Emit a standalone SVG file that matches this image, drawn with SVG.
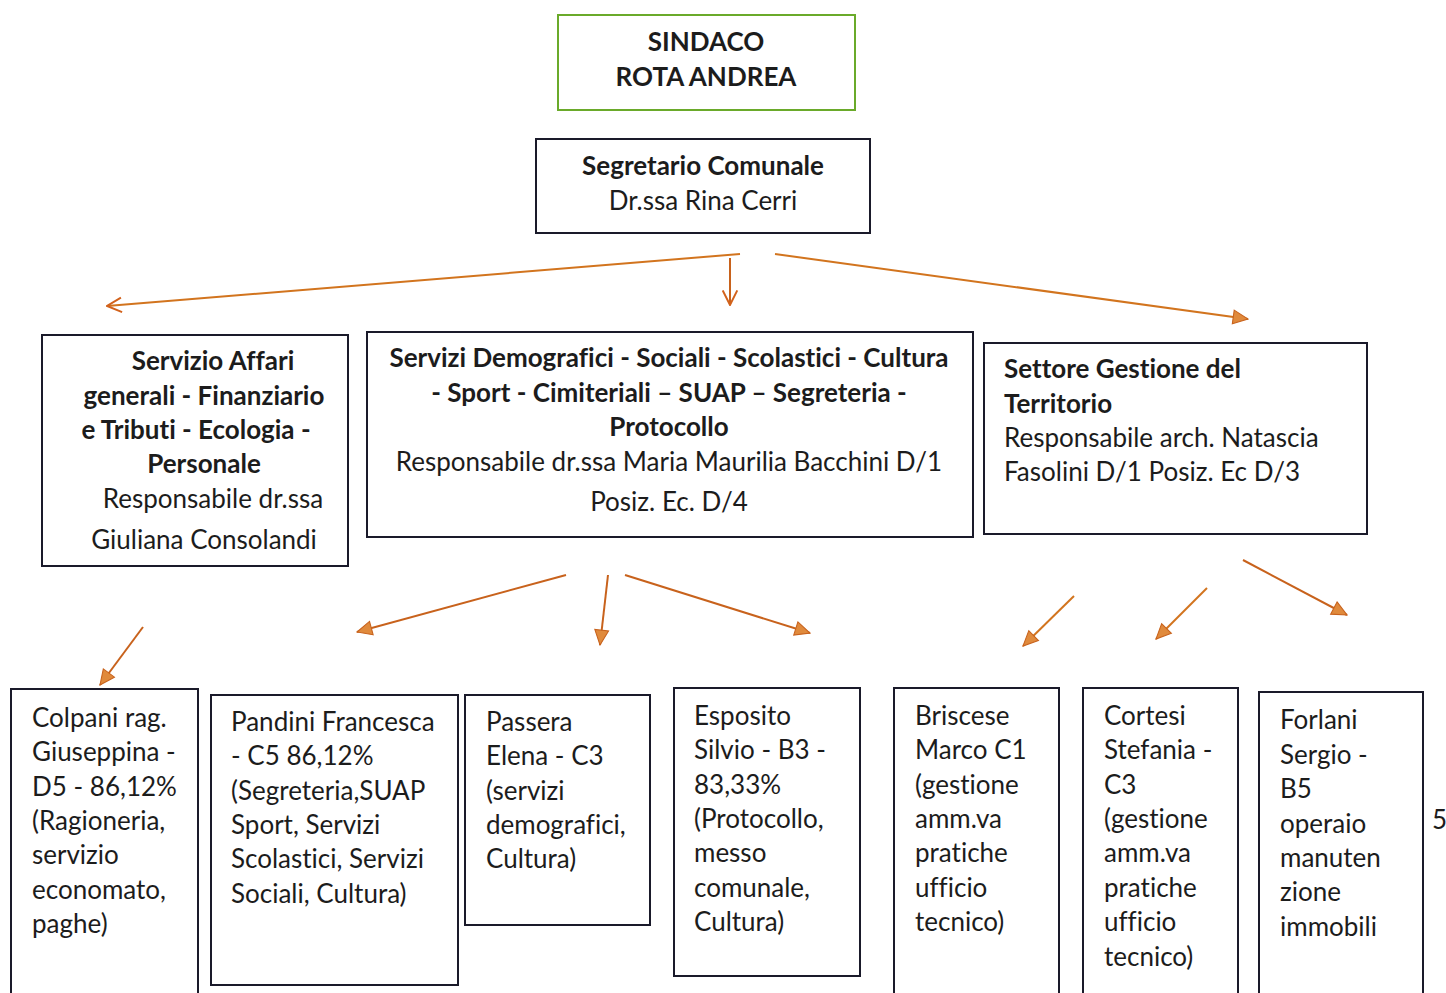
<svg xmlns="http://www.w3.org/2000/svg" width="1446" height="993" viewBox="0 0 1446 993">
<defs>
<style>
.box{fill:#fff;stroke:#1a1a2a;stroke-width:2}
.green{fill:#fff;stroke:#6aaa2a;stroke-width:2}
text{font-family:Lato,"Liberation Sans",sans-serif;font-size:26px;fill:#1c1c1c;font-variant-ligatures:none}
.b{font-weight:bold}
.c{text-anchor:middle}
.ln{fill:none;stroke:#c8621c;stroke-width:2}
.ln2{fill:none;stroke:#d2741e;stroke-width:2}
</style>
<marker id="tri" viewBox="0 0 16 16" refX="15" refY="8" markerWidth="17" markerHeight="17" markerUnits="userSpaceOnUse" orient="auto">
<path d="M1,1.5 L15,8 L1,14.5 Z" fill="#e08a3c" stroke="#c8621c" stroke-width="1"/>
</marker>
<marker id="openEnd" viewBox="0 0 14 14" refX="13" refY="7" markerWidth="17" markerHeight="17" markerUnits="userSpaceOnUse" orient="auto">
<path d="M1,1 L13,7 L1,13" fill="none" stroke="#d2621c" stroke-width="1.6"/>
</marker>
</defs>
<rect width="1446" height="993" fill="#fff"/>

<g id="sindaco">
<rect class="green" x="558" y="15" width="297" height="95"/>
<text class="b c" x="706" y="51">SINDACO</text>
<text class="b c" x="706" y="86">ROTA ANDREA</text>
</g>

<g id="segretario">
<rect class="box" x="536" y="139" width="334" height="94"/>
<text class="b c" x="703" y="175">Segretario Comunale</text>
<text class="c" x="703" y="210">Dr.ssa Rina Cerri</text>
</g>

<g id="affari">
<rect class="box" x="42" y="335" width="306" height="231"/>
<text class="b c" x="213" y="370">Servizio Affari</text>
<text class="b c" x="204" y="405">generali - Finanziario</text>
<text class="b c" x="196" y="439">e Tributi - Ecologia -</text>
<text class="b c" x="204" y="473">Personale</text>
<text class="c" x="213" y="508">Responsabile dr.ssa</text>
<text class="c" x="204" y="549">Giuliana Consolandi</text>
</g>

<g id="demografici">
<rect class="box" x="367" y="332" width="606" height="205"/>
<text class="b c" x="669" y="367">Servizi Demografici - Sociali - Scolastici - Cultura</text>
<text class="b c" x="669" y="402">- Sport - Cimiteriali – SUAP – Segreteria -</text>
<text class="b c" x="669" y="436">Protocollo</text>
<text class="c" x="669" y="471">Responsabile dr.ssa Maria Maurilia Bacchini D/1</text>
<text class="c" x="669" y="511">Posiz. Ec. D/4</text>
</g>

<g id="territorio">
<rect class="box" x="984" y="343" width="383" height="191"/>
<text class="b" x="1004" y="378">Settore Gestione del</text>
<text class="b" x="1004" y="413">Territorio</text>
<text x="1004" y="447">Responsabile arch. Natascia</text>
<text x="1004" y="481">Fasolini D/1 Posiz. Ec D/3</text>
</g>

<g id="colpani">
<rect class="box" x="11" y="689" width="187" height="320"/>
<text x="32" y="727">Colpani rag.</text>
<text x="32" y="761">Giuseppina -</text>
<text x="32" y="796">D5 - 86,12%</text>
<text x="32" y="830">(Ragioneria,</text>
<text x="32" y="864">servizio</text>
<text x="32" y="899">economato,</text>
<text x="32" y="933">paghe)</text>
</g>

<g id="pandini">
<rect class="box" x="211" y="695" width="247" height="290"/>
<text x="231" y="731">Pandini Francesca</text>
<text x="231" y="765">- C5 86,12%</text>
<text x="231" y="800">(Segreteria,SUAP</text>
<text x="231" y="834">Sport, Servizi</text>
<text x="231" y="868">Scolastici, Servizi</text>
<text x="231" y="903">Sociali, Cultura)</text>
</g>

<g id="passera">
<rect class="box" x="465" y="695" width="185" height="230"/>
<text x="486" y="731">Passera</text>
<text x="486" y="765">Elena - C3</text>
<text x="486" y="800">(servizi</text>
<text x="486" y="834">demografici,</text>
<text x="486" y="868">Cultura)</text>
</g>

<g id="esposito">
<rect class="box" x="674" y="688" width="186" height="288"/>
<text x="694" y="725">Esposito</text>
<text x="694" y="759">Silvio - B3 -</text>
<text x="694" y="794">83,33%</text>
<text x="694" y="828">(Protocollo,</text>
<text x="694" y="862">messo</text>
<text x="694" y="897">comunale,</text>
<text x="694" y="931">Cultura)</text>
</g>

<g id="briscese">
<rect class="box" x="894" y="688" width="165" height="320"/>
<text x="915" y="725">Briscese</text>
<text x="915" y="759">Marco C1</text>
<text x="915" y="794">(gestione</text>
<text x="915" y="828">amm.va</text>
<text x="915" y="862">pratiche</text>
<text x="915" y="897">ufficio</text>
<text x="915" y="931">tecnico)</text>
</g>

<g id="cortesi">
<rect class="box" x="1083" y="688" width="155" height="320"/>
<text x="1104" y="725">Cortesi</text>
<text x="1104" y="759">Stefania -</text>
<text x="1104" y="794">C3</text>
<text x="1104" y="828">(gestione</text>
<text x="1104" y="862">amm.va</text>
<text x="1104" y="897">pratiche</text>
<text x="1104" y="931">ufficio</text>
<text x="1104" y="966">tecnico)</text>
</g>

<g id="forlani">
<rect class="box" x="1259" y="692" width="164" height="320"/>
<text x="1280" y="729">Forlani</text>
<text x="1280" y="764">Sergio -</text>
<text x="1280" y="798">B5</text>
<text x="1280" y="833">operaio</text>
<text x="1280" y="867">manuten</text>
<text x="1280" y="901">zione</text>
<text x="1280" y="936">immobili</text>
</g>

<text id="pagenum" x="1432" y="829">5</text>

<g id="connectors">
<path class="ln2" d="M740,254 L107,306" marker-end="url(#openEnd)"/>
<path class="ln" d="M730,258 L730,305" marker-end="url(#openEnd)"/>
<path class="ln2" d="M775,254 L1248,319" marker-end="url(#tri)"/>
<path class="ln" d="M143,627 L100,685" marker-end="url(#tri)"/>
<path class="ln" d="M566,575 L357,632" marker-end="url(#tri)"/>
<path class="ln" d="M608,575 L600,645" marker-end="url(#tri)"/>
<path class="ln" d="M625,575 L810,633" marker-end="url(#tri)"/>
<path class="ln2" d="M1074,596 L1023,646" marker-end="url(#tri)"/>
<path class="ln2" d="M1207,588 L1156,639" marker-end="url(#tri)"/>
<path class="ln" d="M1243,560 L1347,615" marker-end="url(#tri)"/>
</g>
</svg>
